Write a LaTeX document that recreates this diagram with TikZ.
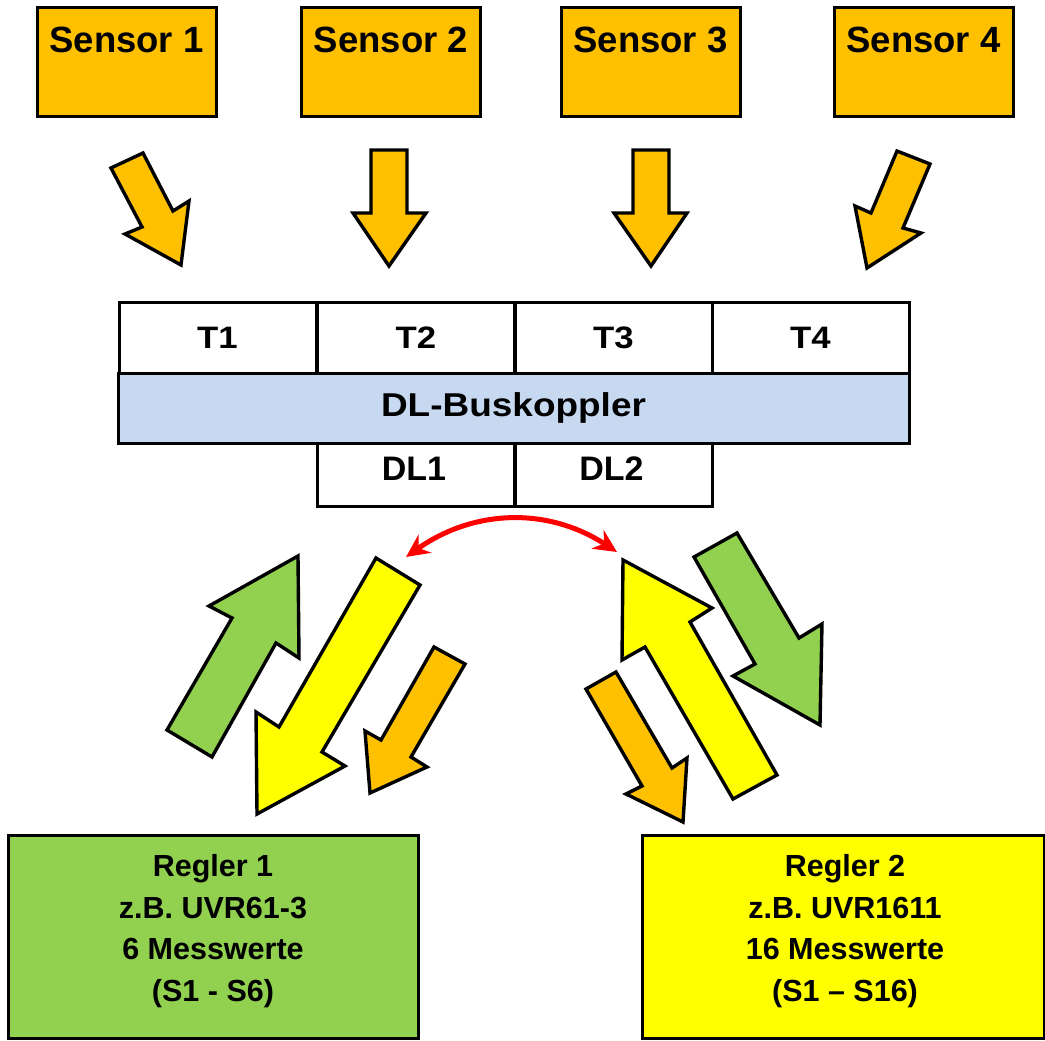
\documentclass[tikz,border=0pt]{standalone}
\usepackage{fontspec}
\setmainfont{Liberation Sans}
\usetikzlibrary{arrows.meta}
\definecolor{orng}{HTML}{FFC000}
\definecolor{grn}{HTML}{92D050}
\definecolor{yel}{HTML}{FFFF00}
\definecolor{lblue}{HTML}{C6D9F1}
\definecolor{rd}{HTML}{FF0000}
\begin{document}
\begin{tikzpicture}[x=1pt,y=-1pt,
  box/.style={draw=black,line width=3pt,inner sep=0pt,outer sep=0pt,line join=miter},
  sensorbox/.style={box,fill=orng,minimum width=179pt,minimum height=108pt},
  stext/.style={anchor=base,inner sep=0pt,font=\fontsize{36.5}{40}\selectfont\bfseries},
  tcell/.style={box,fill=white,minimum width=197pt,minimum height=71pt,font=\fontsize{31}{34}\selectfont\bfseries},
  dlcell/.style={box,fill=white,minimum width=197pt,minimum height=63pt},
  dltext/.style={anchor=base,inner sep=0pt,font=\fontsize{34}{38}\selectfont\bfseries},
  reglerbox/.style={box,minimum height=203pt},
  reglertext/.style={align=center,inner sep=0pt,font=\fontsize{30.5}{41.5}\selectfont\bfseries},
  blockarrow/.style={draw=black,line width=3.4pt,line join=miter},
  link/.style={draw=rd,line width=5pt,{Stealth[length=23pt,width=22pt]}-{Stealth[length=23pt,width=22pt]}}
]
\useasboundingbox (0,0) rectangle (1045,1041);
\fill[white] (0,0) rectangle (1045,1041);

% sensors
\node[sensorbox] (s1) at (126.5,62) {};
\node[sensorbox] (s2) at (391,62) {};
\node[sensorbox] (s3) at (650.5,62) {};
\node[sensorbox] (s4) at (923.5,62) {};
\node[stext] (s1t) at (126.5,53) {Sensor 1};
\node[stext] (s2t) at (391,53) {Sensor 2};
\node[stext] (s3t) at (650.5,53) {Sensor 3};
\node[stext] (s4t) at (923.5,53) {Sensor 4};

% sensor arrows
\filldraw[blockarrow,fill=orng] (111,168) -- (143,153) -- (173,211) -- (189,201) -- (181,265) -- (125,234) -- (142,227) -- cycle;
\filldraw[blockarrow,fill=orng] (371,150) -- (407,150) -- (407,213) -- (426,213) -- (389,266) -- (353,213) -- (371,213) -- cycle;
\filldraw[blockarrow,fill=orng] (633,150) -- (669,150) -- (669,213) -- (687,213) -- (651,266) -- (614,213) -- (633,213) -- cycle;
\filldraw[blockarrow,fill=orng] (897,151) -- (930,164) -- (903,228) -- (921,233) -- (867,268) -- (855,206) -- (871,213) -- cycle;

% bus coupler
\node[box,fill=lblue,minimum width=791pt,minimum height=70pt] (bus) at (513.5,408)
  {\fontsize{33}{37}\selectfont\bfseries\scalebox{1.12}[1]{DL-Buskoppler}};
\node[tcell] (t1) at (217.5,337.5) {\scalebox{1.12}[1]{T1}};
\node[tcell] (t2) at (416,337.5) {\scalebox{1.12}[1]{T2}};
\node[tcell] (t3) at (613.5,337.5) {\scalebox{1.12}[1]{T3}};
\node[tcell] (t4) at (810.5,337.5) {\scalebox{1.12}[1]{T4}};
\node[dlcell] (dl1) at (416,474.5) {};
\node[dlcell] (dl2) at (613.5,474.5) {};
\node[dltext] (dl1t) at (414,480) {DL1};
\node[dltext] (dl2t) at (611.5,480) {DL2};

% left arrows
\filldraw[blockarrow,fill=grn] (167,730) -- (212,757) -- (276,643) -- (299,658) -- (298,556) -- (209,606) -- (232,618) -- cycle;
\filldraw[blockarrow,fill=yel] (376,558) -- (420,585) -- (322,752) -- (345,766) -- (257,814) -- (256,712) -- (279,727) -- cycle;
\filldraw[blockarrow,fill=orng] (434,647) -- (465,664) -- (411,757) -- (427,767) -- (370,793) -- (365,731) -- (381,740) -- cycle;

% right arrows
\filldraw[blockarrow,fill=yel] (623,560) -- (712,608) -- (690,622) -- (777,775) -- (733,799) -- (645,647) -- (622,660) -- cycle;
\filldraw[blockarrow,fill=grn] (694,557) -- (737,533) -- (799,638) -- (822,624) -- (820,725) -- (733,676) -- (755,664) -- cycle;
\filldraw[blockarrow,fill=orng] (586,689) -- (616,672) -- (672,768) -- (687,758) -- (683,822) -- (626,794) -- (642,786) -- cycle;

% red exchange arrow
\coordinate (rl) at (406,557);
\coordinate (rr) at (617,552);
\draw[link] (rl) .. controls (474,509) and (548,507) .. (rr);

% controllers
\node[reglerbox,fill=grn,minimum width=410pt] (r1) at (213,936.5) {};
\node[reglertext] (r1t) at (213,931) {Regler 1\\z.B. UVR61-3\\6 Messwerte\\(S1 - S6)};
\node[reglerbox,fill=yel,minimum width=402pt] (r2) at (843,936.5) {};
\node[reglertext] (r2t) at (845,931) {Regler 2\\z.B. UVR1611\\16 Messwerte\\(S1 – S16)};
\end{tikzpicture}
\end{document}
